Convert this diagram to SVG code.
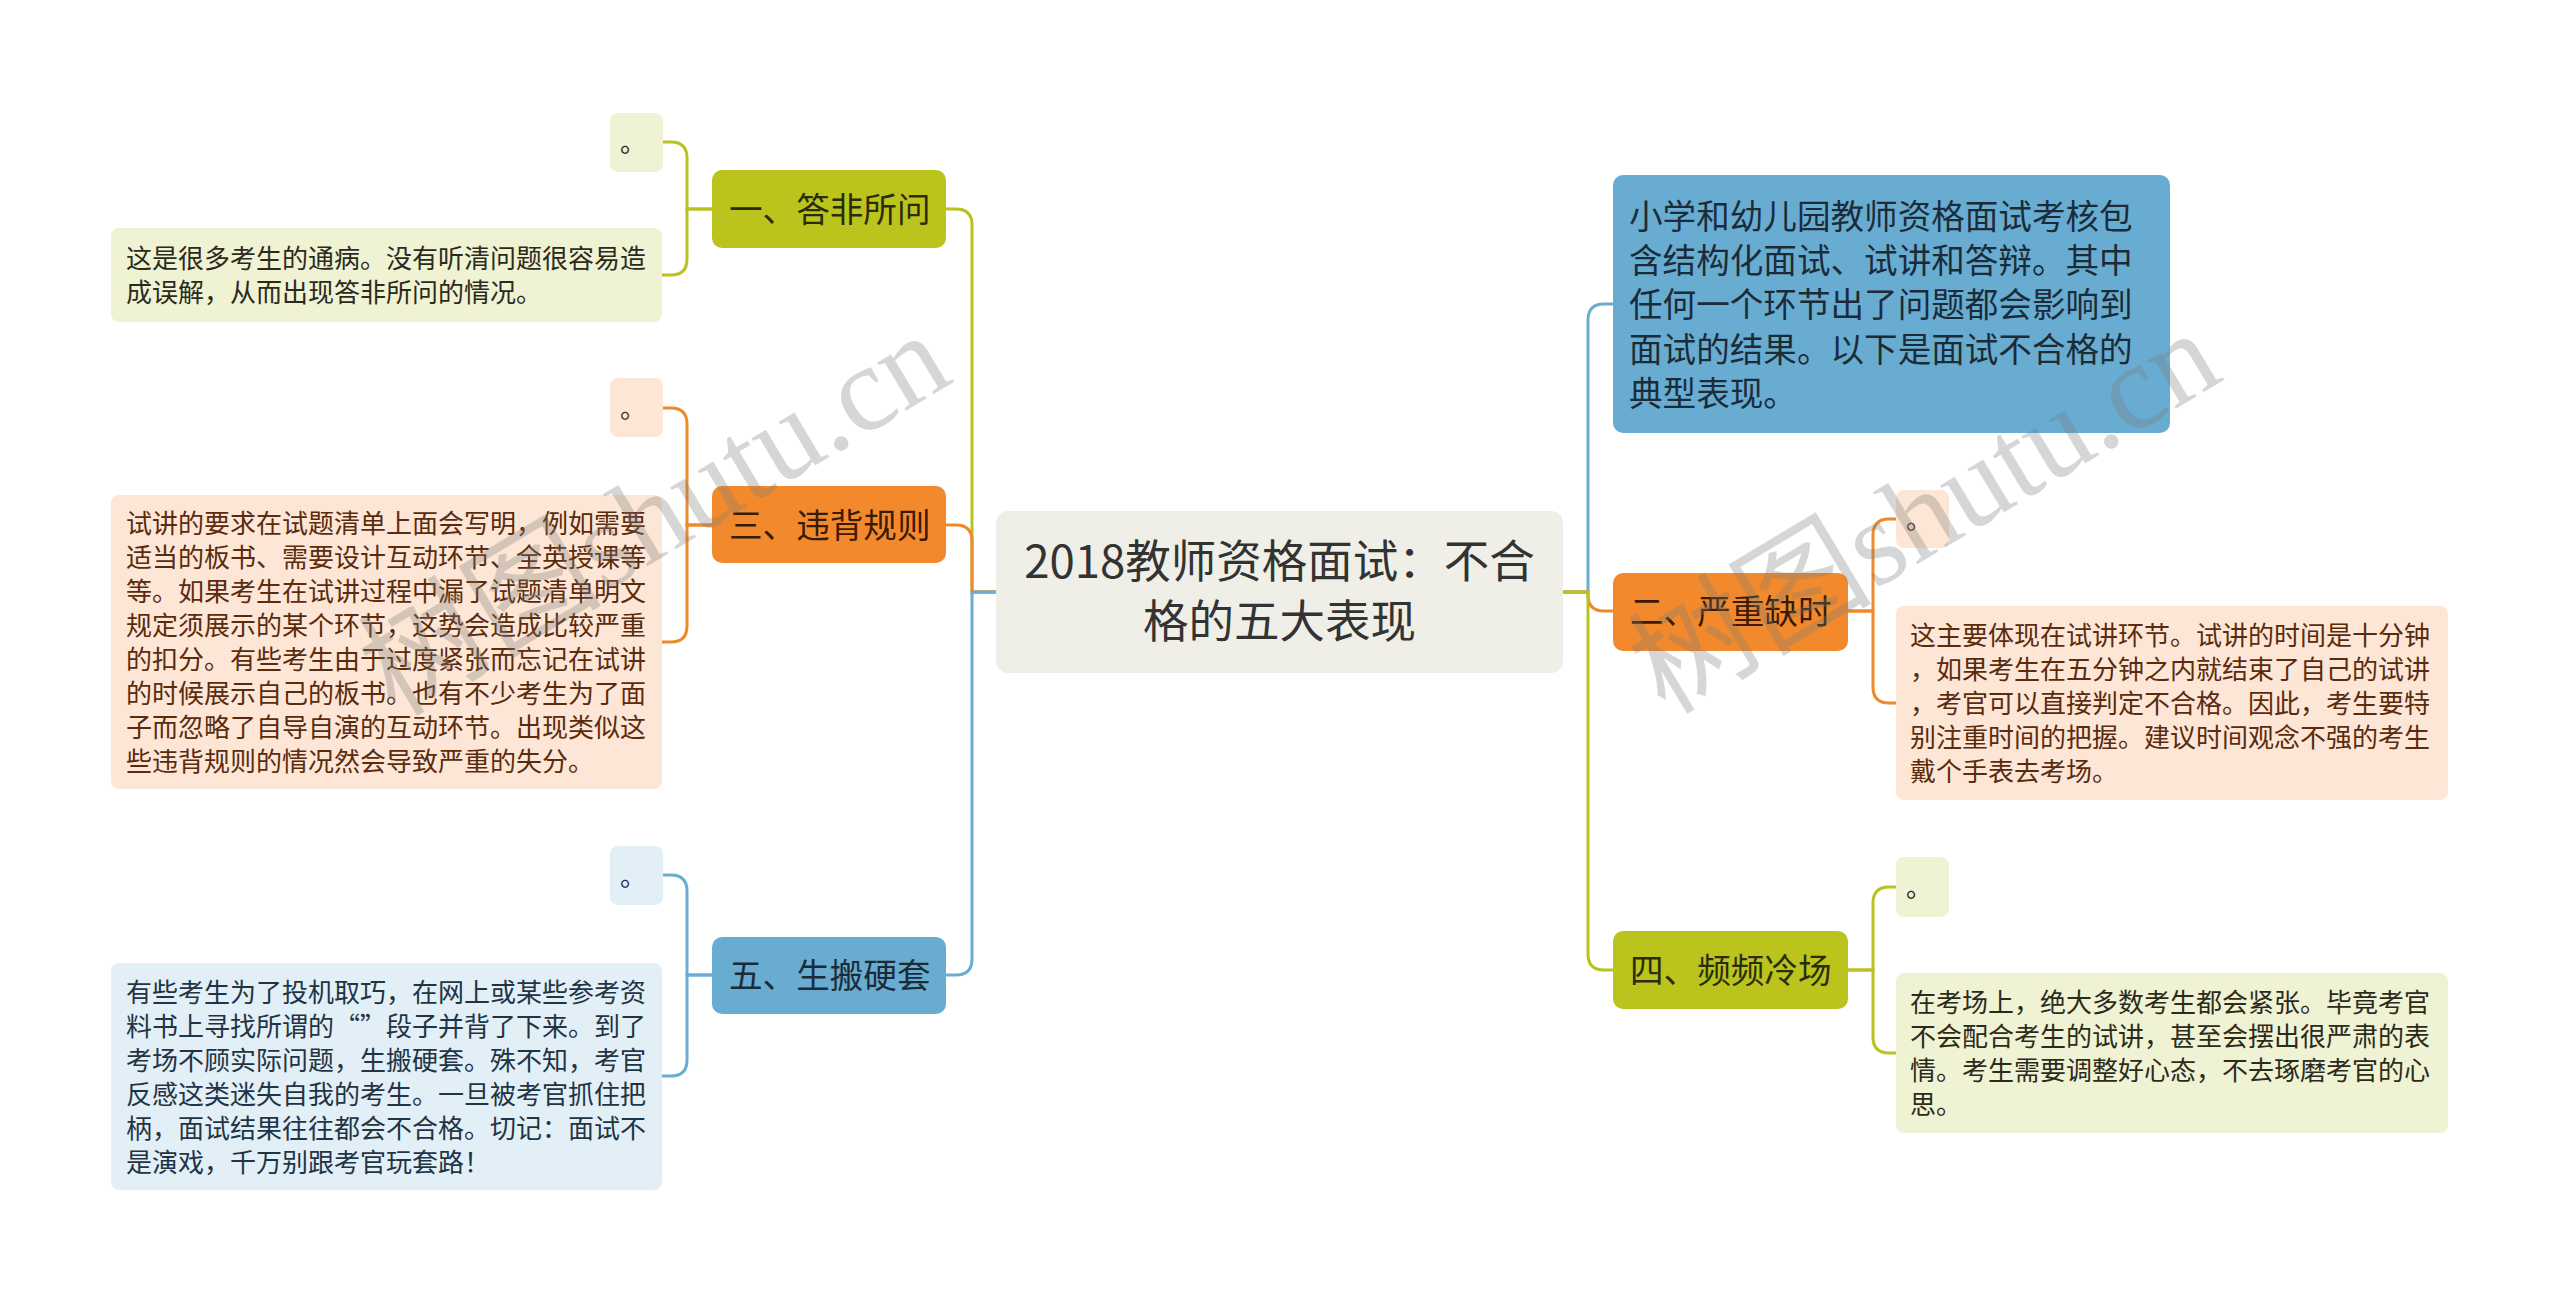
<svg xmlns="http://www.w3.org/2000/svg" width="2560" height="1303" viewBox="0 0 2560 1303">
<style>
text{font-family:"Noto Sans CJK SC","Noto Sans",sans-serif;}
.c{fill:none;stroke-width:3;}
.cy{stroke:#b9c21f;}
.co{stroke:#ee8a2c;}
.cb{stroke:#6aadd2;}
.leaf{font-size:26px;}
.br{font-size:33.6px;}
.ty{fill:#2a2d08;}
.to{fill:#3a1c06;}
.tb{fill:#1b2c38;}
.lty{fill:#2b2b1c;}
.lto{fill:#5a2b0c;}
.ltb{fill:#1f3444;}
.wm{font-family:"Liberation Serif","Noto Sans CJK SC",serif;font-size:122px;fill:#7a7a7a;opacity:0.3;}
</style>
<rect width="2560" height="1303" fill="#ffffff"/>

<g id="connectors">
  <path class="c cy" d="M996,592 H972 V225 Q972,209 956,209 H946"/>
  <path class="c co" d="M996,592 H972 V541 Q972,525 956,525 H946"/>
  <path class="c cb" d="M996,592 H972 V959 Q972,975 956,975 H946"/>
  <path class="c cb" d="M1563,592 H1588 V320 Q1588,304 1604,304 H1613"/>
  <path class="c co" d="M1563,592 H1588 V595 Q1588,611 1604,611 H1613"/>
  <path class="c cy" d="M1563,592 H1588 V954 Q1588,970 1604,970 H1613"/>
  <path class="c cy" d="M712,209 H687 V158 Q687,142 671,142 H662"/>
  <path class="c cy" d="M712,209 H687 V259 Q687,275 671,275 H662"/>
  <path class="c co" d="M712,525 H687 V424 Q687,408 671,408 H662"/>
  <path class="c co" d="M712,525 H687 V626 Q687,642 671,642 H662"/>
  <path class="c cb" d="M712,975 H687 V891 Q687,875 671,875 H662"/>
  <path class="c cb" d="M712,975 H687 V1060 Q687,1076 671,1076 H662"/>
  <path class="c co" d="M1848,611 H1873 V535 Q1873,519 1889,519 H1896"/>
  <path class="c co" d="M1848,611 H1873 V687 Q1873,703 1889,703 H1896"/>
  <path class="c cy" d="M1848,970 H1873 V903 Q1873,887 1889,887 H1896"/>
  <path class="c cy" d="M1848,970 H1873 V1037 Q1873,1053 1889,1053 H1896"/>
</g>

<g id="center">
  <rect x="996" y="511" width="567" height="162" rx="12" fill="#efefe8"/>
  <text x="1279.5" text-anchor="middle" font-size="45.5" fill="#333333"><tspan x="1279.5" y="578">2018教师资格面试：不合</tspan><tspan x="1279.5" y="638">格的五大表现</tspan></text>
</g>

<g id="intro">
  <rect x="1613" y="175" width="557" height="258" rx="10" fill="#69acd1"/>
  <text class="br tb"><tspan x="1629" y="228.5">小学和幼儿园教师资格面试考核包</tspan><tspan x="1629" y="272.9">含结构化面试、试讲和答辩。其中</tspan><tspan x="1629" y="317.3">任何一个环节出了问题都会影响到</tspan><tspan x="1629" y="361.7">面试的结果。以下是面试不合格的</tspan><tspan x="1629" y="406.1">典型表现。</tspan></text>
</g>

<g id="b1">
  <rect x="712" y="170" width="234" height="78" rx="10" fill="#bac41d"/>
  <text class="br ty" x="729" y="221.8">一、答非所问</text>
</g>
<g id="b3">
  <rect x="712" y="486" width="234" height="77" rx="10" fill="#f28a2d"/>
  <text class="br to" x="729" y="537.8">三、违背规则</text>
</g>
<g id="b5">
  <rect x="712" y="937" width="234" height="77" rx="10" fill="#69acd1"/>
  <text class="br tb" x="729" y="988.3">五、生搬硬套</text>
</g>
<g id="b2">
  <rect x="1613" y="573" width="235" height="78" rx="10" fill="#f28a2d"/>
  <text class="br to" x="1630" y="623.8">二、严重缺时</text>
</g>
<g id="b4">
  <rect x="1613" y="931" width="235" height="78" rx="10" fill="#bac41d"/>
  <text class="br ty" x="1630" y="982.8">四、频频冷场</text>
</g>

<g id="l1a">
  <rect x="610" y="113" width="53" height="59" rx="8" fill="#f0f2d4"/>
  <text class="leaf lty" x="620" y="152">。</text>
</g>
<g id="l1b">
  <rect x="111" y="228" width="551" height="94" rx="8" fill="#f0f2d4"/>
  <text class="leaf lty"><tspan x="126" y="268">这是很多考生的通病。没有听清问题很容易造</tspan><tspan x="126" y="302">成误解，从而出现答非所问的情况。</tspan></text>
</g>

<g id="l3a">
  <rect x="610" y="378" width="53" height="59" rx="8" fill="#fde6d6"/>
  <text class="leaf lto" x="620" y="418">。</text>
</g>
<g id="l3b">
  <rect x="111" y="495" width="551" height="294" rx="8" fill="#fde6d6"/>
  <text class="leaf lto"><tspan x="126" y="533">试讲的要求在试题清单上面会写明，例如需要</tspan><tspan x="126" y="567">适当的板书、需要设计互动环节、全英授课等</tspan><tspan x="126" y="601">等。如果考生在试讲过程中漏了试题清单明文</tspan><tspan x="126" y="635">规定须展示的某个环节，这势会造成比较严重</tspan><tspan x="126" y="669">的扣分。有些考生由于过度紧张而忘记在试讲</tspan><tspan x="126" y="703">的时候展示自己的板书。也有不少考生为了面</tspan><tspan x="126" y="737">子而忽略了自导自演的互动环节。出现类似这</tspan><tspan x="126" y="771">些违背规则的情况然会导致严重的失分。</tspan></text>
</g>

<g id="l5a">
  <rect x="610" y="846" width="53" height="59" rx="8" fill="#e2eff7"/>
  <text class="leaf ltb" x="620" y="885.5">。</text>
</g>
<g id="l5b">
  <rect x="111" y="963" width="551" height="227" rx="8" fill="#e2eff7"/>
  <text class="leaf ltb"><tspan x="126" y="1001.5">有些考生为了投机取巧，在网上或某些参考资</tspan><tspan x="126" y="1035.5">料书上寻找所谓的“”段子并背了下来。到了</tspan><tspan x="126" y="1069.5">考场不顾实际问题，生搬硬套。殊不知，考官</tspan><tspan x="126" y="1103.5">反感这类迷失自我的考生。一旦被考官抓住把</tspan><tspan x="126" y="1137.5">柄，面试结果往往都会不合格。切记：面试不</tspan><tspan x="126" y="1171.5">是演戏，千万别跟考官玩套路！</tspan></text>
</g>

<g id="l2a">
  <rect x="1896" y="490" width="53" height="58" rx="8" fill="#fde6d6"/>
  <text class="leaf lto" x="1906" y="529">。</text>
</g>
<g id="l2b">
  <rect x="1896" y="606" width="552" height="194" rx="8" fill="#fde6d6"/>
  <text class="leaf lto"><tspan x="1910" y="645">这主要体现在试讲环节。试讲的时间是十分钟</tspan><tspan x="1910" y="679">，如果考生在五分钟之内就结束了自己的试讲</tspan><tspan x="1910" y="713">，考官可以直接判定不合格。因此，考生要特</tspan><tspan x="1910" y="747">别注重时间的把握。建议时间观念不强的考生</tspan><tspan x="1910" y="781">戴个手表去考场。</tspan></text>
</g>

<g id="l4a">
  <rect x="1896" y="857" width="53" height="60" rx="8" fill="#f0f2d4"/>
  <text class="leaf lty" x="1906" y="897">。</text>
</g>
<g id="l4b">
  <rect x="1896" y="973" width="552" height="160" rx="8" fill="#f0f2d4"/>
  <text class="leaf lty"><tspan x="1910" y="1012">在考场上，绝大多数考生都会紧张。毕竟考官</tspan><tspan x="1910" y="1046">不会配合考生的试讲，甚至会摆出很严肃的表</tspan><tspan x="1910" y="1080">情。考生需要调整好心态，不去琢磨考官的心</tspan><tspan x="1910" y="1114">思。</tspan></text>
</g>

<g id="watermark">
  <text class="wm" x="655" y="555" text-anchor="middle" transform="rotate(-31 655 515)">树图shutu.cn</text>
  <text class="wm" x="1925" y="553" text-anchor="middle" transform="rotate(-31 1925 513)">树图shutu.cn</text>
</g>
</svg>
